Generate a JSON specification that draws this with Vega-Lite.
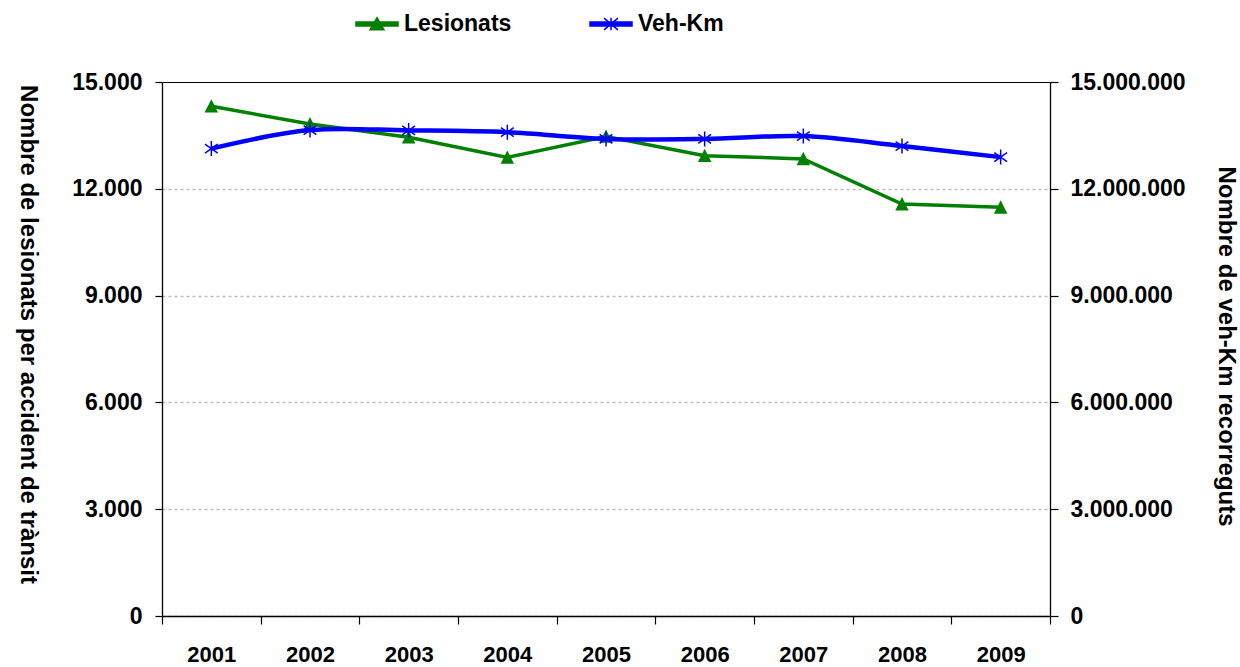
{
  "$schema": "https://vega.github.io/schema/vega-lite/v6.json",
  "width": 888,
  "height": 534,
  "autosize": {"type": "none"},
  "padding": {"left": 162, "top": 82, "right": 190, "bottom": 51},
  "background": "white",
  "data": {
    "values": [
      {"year": "2001", "series": "Lesionats", "value": 14320},
      {"year": "2002", "series": "Lesionats", "value": 13820},
      {"year": "2003", "series": "Lesionats", "value": 13450},
      {"year": "2004", "series": "Lesionats", "value": 12880},
      {"year": "2005", "series": "Lesionats", "value": 13470},
      {"year": "2006", "series": "Lesionats", "value": 12930},
      {"year": "2007", "series": "Lesionats", "value": 12840},
      {"year": "2008", "series": "Lesionats", "value": 11570},
      {"year": "2009", "series": "Lesionats", "value": 11480},
      {"year": "2001", "series": "Veh-Km", "value": 13130000},
      {"year": "2002", "series": "Veh-Km", "value": 13650000},
      {"year": "2003", "series": "Veh-Km", "value": 13640000},
      {"year": "2004", "series": "Veh-Km", "value": 13590000},
      {"year": "2005", "series": "Veh-Km", "value": 13400000},
      {"year": "2006", "series": "Veh-Km", "value": 13400000},
      {"year": "2007", "series": "Veh-Km", "value": 13480000},
      {"year": "2008", "series": "Veh-Km", "value": 13200000},
      {"year": "2009", "series": "Veh-Km", "value": 12890000}
    ]
  },
  "encoding": {
    "x": {
      "field": "year",
      "type": "ordinal",
      "bandPosition": 0.5,
      "scale": {"type": "band", "paddingInner": 0, "paddingOuter": 0},
      "axis": {
        "title": null,
        "labelAngle": 0,
        "tickBand": "extent",
        "tickSize": 8,
        "tickColor": "black",
        "tickWidth": 1.2,
        "domainColor": "black",
        "domainWidth": 1.3,
        "labelPadding": 20,
        "labelFontSize": 22,
        "labelFont": "Liberation Sans",
        "labelFontWeight": "bold",
        "labelColor": "black",
        "grid": false
      }
    }
  },
  "layer": [
    {
      "transform": [{"filter": "datum.series === 'Lesionats'"}],
      "encoding": {
        "y": {
          "field": "value",
          "type": "quantitative",
          "scale": {"domain": [0, 15000], "nice": false, "zero": true},
          "axis": {
            "orient": "left",
            "values": [0, 3000, 6000, 9000, 12000, 15000],
            "labelExpr": "replace(format(datum.value, ','), /,/g, '.')",
            "title": "Nombre de lesionats per accident de trànsit",
            "titleAngle": 90,
            "titleX": -135,
            "titleY": 252,
            "titleAlign": "center",
            "titleBaseline": "middle",
            "titleFontSize": 24,
            "titleFont": "Liberation Sans",
            "titleFontWeight": "bold",
            "titleColor": "black",
            "labelFontSize": 23,
            "labelFont": "Liberation Sans",
            "labelFontWeight": "bold",
            "labelColor": "black",
            "labelPadding": 13,
            "tickSize": 7,
            "tickColor": "black",
            "tickWidth": 1.2,
            "domainColor": "black",
            "domainWidth": 1.3,
            "grid": true,
            "gridColor": "#bbbbbb",
            "gridDash": [3, 3],
            "gridWidth": 1.5,
            "gridOpacity": {"condition": {"test": "datum.value === 15000", "value": 0}, "value": 1}
          }
        }
      },
      "layer": [
        {
          "mark": {"type": "line", "strokeWidth": 3.5, "interpolate": "linear"},
          "encoding": {
            "color": {
              "field": "series",
              "type": "nominal",
              "scale": {"domain": ["Lesionats", "Veh-Km"], "range": ["#008000", "#0000ff"]},
              "legend": {
                "title": null,
                "orient": "none",
                "direction": "horizontal",
                "legendX": 193,
                "legendY": -80,
                "padding": 0,
                "symbolSize": 1764,
                "labelOffset": 5,
                "columnPadding": 75,
                "labelFontSize": 23,
                "labelFont": "Liberation Sans",
                "labelFontWeight": "bold",
                "labelColor": "black",
                "encode": {
                  "symbols": {
                    "update": {
                      "shape": {"signal": "datum.value === 'Lesionats' ? 'M-1,-0.095H1V0.095H-1ZM0,-0.3L0.33,0.27L-0.33,0.27Z' : 'M-1,-0.1H1V0.1H-1ZM0,-0.3V0.3M-0.33,-0.28L0.33,0.28M-0.33,0.28L0.33,-0.28'"},
                      "fill": {"signal": "datum.value === 'Lesionats' ? '#008000' : '#0000ff'"},
                      "stroke": {"signal": "datum.value === 'Lesionats' ? '#008000' : '#0000ff'"},
                      "strokeWidth": {"value": 1.5},
                      "size": {"value": 1764},
                      "opacity": {"value": 1}
                    }
                  }
                }
              }
            }
          }
        },
        {
          "mark": {
            "type": "point",
            "shape": "M0,-1.05L1,0.95L-1,0.95Z",
            "filled": true,
            "size": 180,
            "color": "#008000",
            "opacity": 1
          }
        }
      ]
    },
    {
      "transform": [{"filter": "datum.series === 'Veh-Km'"}],
      "encoding": {
        "y": {
          "field": "value",
          "type": "quantitative",
          "scale": {"domain": [0, 15000000], "nice": false, "zero": true},
          "axis": {
            "orient": "right",
            "values": [0, 3000000, 6000000, 9000000, 12000000, 15000000],
            "labelExpr": "replace(format(datum.value, ','), /,/g, '.')",
            "title": "Nombre de veh-Km recorreguts",
            "titleAngle": 90,
            "titleX": 175,
            "titleY": 264,
            "titleAlign": "center",
            "titleBaseline": "middle",
            "titleFontSize": 24,
            "titleFont": "Liberation Sans",
            "titleFontWeight": "bold",
            "titleColor": "black",
            "labelFontSize": 23,
            "labelFont": "Liberation Sans",
            "labelFontWeight": "bold",
            "labelColor": "black",
            "labelPadding": 12,
            "tickSize": 8,
            "tickColor": "black",
            "tickWidth": 1.2,
            "domainColor": "black",
            "domainWidth": 1.3,
            "grid": false
          }
        }
      },
      "layer": [
        {
          "mark": {"type": "line", "strokeWidth": 4.5, "interpolate": "catmull-rom"},
          "encoding": {
            "color": {"field": "series", "type": "nominal"}
          }
        },
        {
          "mark": {
            "type": "point",
            "shape": "M0,-1V1M-0.85,-0.6L0.85,0.6M-0.85,0.6L0.85,-0.6",
            "filled": false,
            "size": 225,
            "color": "#0000ff",
            "strokeWidth": 1.5,
            "opacity": 1
          }
        }
      ]
    }
  ],
  "resolve": {"scale": {"y": "independent"}},
  "config": {
    "view": {"stroke": "black", "strokeWidth": 1}
  }
}
